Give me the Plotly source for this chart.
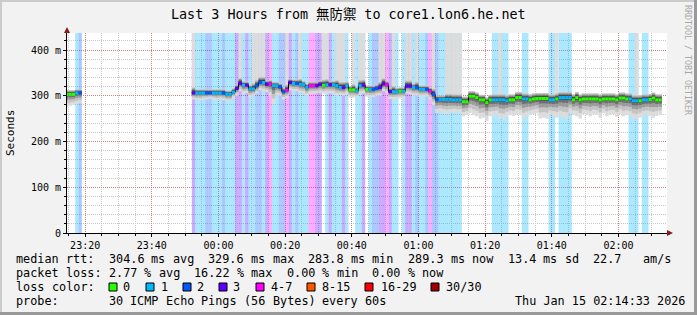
import pandas as pd
import plotly.graph_objects as go

# ---------------- data ----------------
TITLE = "Last 3 Hours from 無防禦 to core1.lon6.he.net"
X_START = "2026-01-14 23:14:33"
X_END = "2026-01-15 02:14:33"
Y_MAX = 437.2

x_tick_vals = ["2026-01-14 23:20", "2026-01-14 23:40", "2026-01-15 00:00",
               "2026-01-15 00:20", "2026-01-15 00:40", "2026-01-15 01:00",
               "2026-01-15 01:20", "2026-01-15 01:40", "2026-01-15 02:00"]
x_tick_text = ["23:20", "23:40", "00:00", "00:20", "00:40", "01:00", "01:20", "01:40", "02:00"]
y_tick_vals = [0, 100, 200, 300, 400]
y_tick_text = ["0", "100 m", "200 m", "300 m", "400 m"]

loss_labels = ["0", "1", "2", "3", "4-7", "8-15", "16-29", "30/30"]
loss_colors = ["#26ff00", "#00b8ff", "#0059ff", "#5e00ff", "#ff00ff", "#ff5500", "#ff0000", "#a10000"]
loss_bg = ["rgba(0,0,0,0)", "rgba(0,184,255,0.33)", "rgba(0,89,255,0.33)", "rgba(94,0,255,0.33)",
           "rgba(255,0,255,0.33)", "rgba(255,85,0,0.33)", "rgba(255,0,0,0.33)", "rgba(161,0,0,0.33)"]

# first block of samples (one per minute)
seg1_start = "2026-01-14 23:14:00"
seg1_median = [303, 303, 303, 306, 306]
seg1_loss = [0, 0, 0, 1, 2]
seg1_smoke_lo = [276, 278, 280, 282, 284]
seg1_smoke_hi = [312, 312, 312, 314, 314]

# second block of samples (one per minute)
seg2_start = "2026-01-14 23:52:00"
seg2_median = [306, 306, 306, 306, 306, 306, 306, 306, 306, 306,
               303, 303, 308, 316, 327, 323, 323, 315, 315, 322,
               329, 329, 325, 326, 322, 322, 319, 309, 312, 329,
               327, 327, 325, 324, 318, 322, 322, 322, 325, 323,
               324, 324, 324, 322, 318, 318, 322, 313, 313, 311,
               322, 323, 314, 314, 314, 316, 318, 326, 324, 309,
               309, 309, 310, 310, 321, 321, 318, 318, 314, 314,
               314, 310, 303, 292, 292, 292, 292, 292, 291, 291,
               291, 287, 287, 299, 299, 296, 291, 291, 285, 291,
               291, 291, 291, 291, 289, 291, 291, 296, 296, 293,
               293, 291, 293, 294, 294, 294, 294, 291, 291, 293,
               296, 296, 296, 296, 291, 296, 291, 293, 293, 293,
               293, 293, 291, 293, 293, 293, 293, 291, 295, 295,
               293, 293, 289, 289, 289, 291, 291, 292, 295, 291,
               291]
seg2_loss = [3, 1, 1, 1, 2, 2, 1, 1, 1, 2,
             1, 1, 1, 3, 3, 1, 3, 1, 1, 2,
             2, 1, 3, 4, 1, 1, 2, 2, 4, 3,
             1, 2, 1, 1, 1, 4, 4, 3, 3, 0,
             1, 3, 1, 1, 1, 3, 1, 0, 0, 1,
             1, 3, 0, 1, 2, 2, 3, 3, 4, 3,
             1, 1, 0, 1, 3, 3, 1, 2, 1, 1,
             2, 4, 2, 2, 1, 1, 1, 1, 1, 1,
             1, 0, 0, 0, 0, 0, 0, 0, 0, 0,
             1, 1, 1, 1, 1, 0, 0, 0, 0, 1,
             1, 0, 0, 0, 0, 0, 0, 1, 1, 0,
             1, 1, 1, 1, 0, 0, 0, 0, 0, 0,
             0, 0, 0, 0, 0, 0, 0, 0, 0, 0,
             0, 1, 1, 1, 0, 1, 1, 0, 0, 0,
             0]
seg2_smoke_lo = [292, 290, 290, 292, 292, 294, 292, 290, 292, 290,
                 288, 288, 295, 300, 310, 305, 306, 296, 300, 305,
                 312, 310, 308, 300, 282, 300, 300, 292, 295, 312,
                 310, 310, 306, 305, 300, 304, 305, 305, 306, 305,
                 306, 305, 305, 300, 302, 300, 304, 296, 296, 296,
                 305, 305, 298, 296, 297, 300, 300, 310, 305, 293,
                 292, 293, 294, 294, 305, 303, 300, 300, 298, 298,
                 298, 292, 280, 262, 265, 262, 260, 262, 264, 262,
                 262, 255, 258, 262, 258, 255, 250, 252, 245, 255,
                 256, 258, 250, 248, 255, 258, 256, 260, 258, 250,
                 254, 258, 260, 262, 250, 252, 250, 258, 256, 252,
                 255, 252, 250, 262, 258, 255, 250, 260, 258, 255,
                 260, 258, 252, 262, 255, 258, 260, 254, 260, 255,
                 258, 255, 250, 248, 252, 256, 258, 255, 252, 256,
                 258]
seg2_smoke_hi = [440, 314, 314, 314, 314, 314, 314, 314, 314, 314,
                 311, 311, 316, 324, 440, 331, 331, 323, 440, 440,
                 440, 440, 333, 334, 330, 330, 327, 317, 440, 337,
                 335, 335, 440, 332, 326, 330, 330, 330, 333, 440,
                 440, 332, 332, 440, 440, 440, 330, 321, 440, 319,
                 440, 440, 322, 322, 322, 324, 440, 440, 332, 317,
                 440, 317, 318, 318, 440, 440, 326, 440, 322, 322,
                 322, 318, 440, 300, 300, 300, 440, 440, 440, 440,
                 440, 298, 298, 310, 310, 307, 302, 302, 296, 302,
                 303, 303, 440, 303, 301, 303, 303, 308, 308, 305,
                 305, 303, 305, 306, 306, 306, 306, 303, 303, 440,
                 308, 308, 308, 308, 303, 308, 303, 305, 305, 305,
                 305, 305, 303, 305, 305, 305, 305, 303, 307, 307,
                 305, 305, 301, 440, 301, 303, 303, 304, 307, 303,
                 303]

# legend text rows (monospace, laid out on a character grid)
legend_row1 = "median rtt:  304.6 ms avg  329.6 ms max  283.8 ms min  289.3 ms now  13.4 ms sd  22.7   am/s"
legend_row2 = "packet loss: 2.77 % avg  16.22 % max  0.00 % min  0.00 % now"
legend_row3_label = "loss color:"
legend_row4 = "probe:       30 ICMP Echo Pings (56 Bytes) every 60s"
legend_date = "Thu Jan 15 02:14:33 2026"
legend_box_x = [109, 146, 183, 219, 256, 307, 365, 431]
legend_text_x = [123, 161, 197, 233, 271, 322, 381, 446]
ROW_Y = [259, 273, 287, 301]
CHAR_W = 7.125
TEXT_X0 = 16

# ---------------- geometry helpers (pixel -> paper) ----------------
PL, PR, PT, PB = 67, 667, 33, 233
def px(p):
    return (p - PL) / (PR - PL)
def py(p):
    return (PB - p) / (PB - PT)

MONO = "DejaVu Sans Mono, Noto Sans CJK SC, monospace"

# ---------------- build per-minute records ----------------
segments = [
    (seg1_start, seg1_median, seg1_loss, seg1_smoke_lo, seg1_smoke_hi),
    (seg2_start, seg2_median, seg2_loss, seg2_smoke_lo, seg2_smoke_hi),
]
recs = []
for start, med, loss, lo, hi in segments:
    t0 = pd.Timestamp(start)
    block = []
    for k in range(len(med)):
        s = t0 + pd.Timedelta(minutes=k)
        block.append(dict(s=s, e=s + pd.Timedelta(minutes=1), c=s + pd.Timedelta(seconds=30),
                          m=med[k], l=loss[k], lo=lo[k], hi=hi[k]))
    recs.append(block)
flat = [r for b in recs for r in b]

fig = go.Figure()

# loss background stripes
for cat in range(1, 8):
    rr = [r for r in flat if r["l"] == cat]
    if not rr:
        continue
    fig.add_trace(go.Bar(x=[r["c"] for r in rr], y=[Y_MAX] * len(rr), base=[0] * len(rr),
                         width=60000, marker=dict(color=loss_bg[cat], line=dict(width=0)),
                         hoverinfo="skip", showlegend=False))

# smoke layers
layers = [(1.0, None, "#dcdcdc"), (0.7, 1.0, "#c2c2c2"), (0.45, 0.8, "#9a9a9a"),
          (0.25, 0.6, "#6e6e6e"), (0.1, 0.45, "#454545")]
for flo, fhi, col in layers:
    bases, heights = [], []
    for r in flat:
        b = r["m"] - (r["m"] - r["lo"]) * flo
        if fhi is None:
            t = r["hi"]
        else:
            t = r["m"] + min(r["hi"] - r["m"], 12) * fhi
        bases.append(b)
        heights.append(t - b)
    fig.add_trace(go.Bar(x=[r["c"] for r in flat], y=heights, base=bases, width=60000,
                         marker=dict(color=col, line=dict(width=0)),
                         hoverinfo="skip", showlegend=False))

# black step line through the medians
lx, ly = [], []
for b in recs:
    for r in b:
        lx.append(r["s"]); ly.append(r["m"])
    lx.append(b[-1]["e"]); ly.append(b[-1]["m"])
    lx.append(None); ly.append(None)
fig.add_trace(go.Scatter(x=lx, y=ly, mode="lines", line=dict(color="#000000", width=1, shape="hv"),
                         hoverinfo="skip", showlegend=False))

# coloured median segments
for cat in range(8):
    sx, sy = [], []
    for r in flat:
        if r["l"] == cat:
            sx += [r["s"], r["e"], None]
            sy += [r["m"], r["m"], None]
    if sx:
        fig.add_trace(go.Scatter(x=sx, y=sy, mode="lines", line=dict(color=loss_colors[cat], width=3),
                                 hoverinfo="skip", showlegend=False))

# ---------------- layout ----------------
fig.update_layout(
    width=697, height=315, autosize=False,
    margin=dict(l=PL, r=697 - PR, t=PT, b=315 - PB, pad=0),
    paper_bgcolor="#f2f2f2", plot_bgcolor="#ffffff",
    barmode="overlay", showlegend=False,
    font=dict(family=MONO, size=10, color="#000000"),
)
fig.update_xaxes(
    type="date", range=[X_START, X_END], tickvals=x_tick_vals, ticktext=x_tick_text,
    ticks="outside", ticklen=3, tickcolor="#000000", tickfont=dict(family=MONO, size=10),
    showline=True, linecolor="#000000", linewidth=1, zeroline=False,
    showgrid=True, gridcolor="rgba(220,80,80,0.6)", griddash="1px,1px", gridwidth=1,
    minor=dict(dtick=300000, tick0="2026-01-14 23:20:00", showgrid=True, gridcolor="#c8c8c8",
               griddash="1px,1px", ticks="outside", ticklen=2, tickcolor="#000000"),
    automargin=False, fixedrange=True,
)
fig.update_yaxes(
    range=[0, Y_MAX], tickvals=y_tick_vals, ticktext=y_tick_text,
    ticks="outside", ticklen=3, tickcolor="#000000", tickfont=dict(family=MONO, size=10),
    showline=True, linecolor="#000000", linewidth=1, zeroline=False,
    showgrid=True, gridcolor="rgba(220,80,80,0.6)", griddash="1px,1px", gridwidth=1,
    minor=dict(dtick=20, tick0=0, showgrid=True, gridcolor="#c8c8c8", griddash="1px,1px",
               ticks="outside", ticklen=2, tickcolor="#000000"),
    automargin=False, fixedrange=True,
)

shapes = []
# frame / shading
shapes.append(dict(type="rect", xref="paper", yref="paper", x0=px(0), x1=px(697), y0=py(0), y1=py(2),
                   fillcolor="#cbcbcb", line=dict(width=0), layer="below"))
shapes.append(dict(type="rect", xref="paper", yref="paper", x0=px(0), x1=px(2), y0=py(0), y1=py(315),
                   fillcolor="#cbcbcb", line=dict(width=0), layer="below"))
shapes.append(dict(type="rect", xref="paper", yref="paper", x0=px(694), x1=px(697), y0=py(0), y1=py(315),
                   fillcolor="#999999", line=dict(width=0), layer="below"))
shapes.append(dict(type="rect", xref="paper", yref="paper", x0=px(0), x1=px(697), y0=py(312), y1=py(315),
                   fillcolor="#999999", line=dict(width=0), layer="below"))
# axis arrows
shapes.append(dict(type="path", xref="paper", yref="paper",
                   path="M {} {} L {} {} L {} {} Z".format(px(64), py(33), px(67), py(27), px(70), py(33)),
                   fillcolor="#8b1a1a", line=dict(width=0)))
shapes.append(dict(type="path", xref="paper", yref="paper",
                   path="M {} {} L {} {} L {} {} Z".format(px(667), py(230), px(673), py(233), px(667), py(236)),
                   fillcolor="#8b1a1a", line=dict(width=0)))
# loss colour boxes
for i, bx in enumerate(legend_box_x):
    shapes.append(dict(type="rect", xref="paper", yref="paper", x0=px(bx), x1=px(bx + 8),
                       y0=py(ROW_Y[2] - 4), y1=py(ROW_Y[2] + 4),
                       fillcolor=loss_colors[i], line=dict(color="#000000", width=1)))

annotations = []
def txt(x, y, s, size=11.8, anchor="left", color="#000000", angle=0):
    annotations.append(dict(xref="paper", yref="paper", x=px(x), y=py(y), text=s, showarrow=False,
                            xanchor=anchor, yanchor="middle", textangle=angle,
                            font=dict(family=MONO, size=size, color=color), borderpad=0))

def mono_row(line, y):
    # place each word at its character-grid position
    i = 0
    n = len(line)
    while i < n:
        if line[i] == " ":
            i += 1
            continue
        j = i
        while j < n and line[j] != " ":
            j += 1
        txt(TEXT_X0 + i * CHAR_W - 1, y, line[i:j])
        i = j

txt(348.5, 15, TITLE, size=13.4, anchor="center")
txt(10, 133, "Seconds", size=11, anchor="center", angle=-90)
txt(688, 60, "RRDTOOL / TOBI OETIKER", size=8.3, anchor="center", color="#a8a8a8", angle=90)
mono_row(legend_row1, ROW_Y[0])
mono_row(legend_row2, ROW_Y[1])
mono_row(legend_row3_label, ROW_Y[2])
for i, tx in enumerate(legend_text_x):
    txt(tx - 1, ROW_Y[2], loss_labels[i])
mono_row(legend_row4, ROW_Y[3])
txt(514, ROW_Y[3], legend_date)

fig.update_layout(shapes=shapes, annotations=annotations)
fig.write_html("out.html")
